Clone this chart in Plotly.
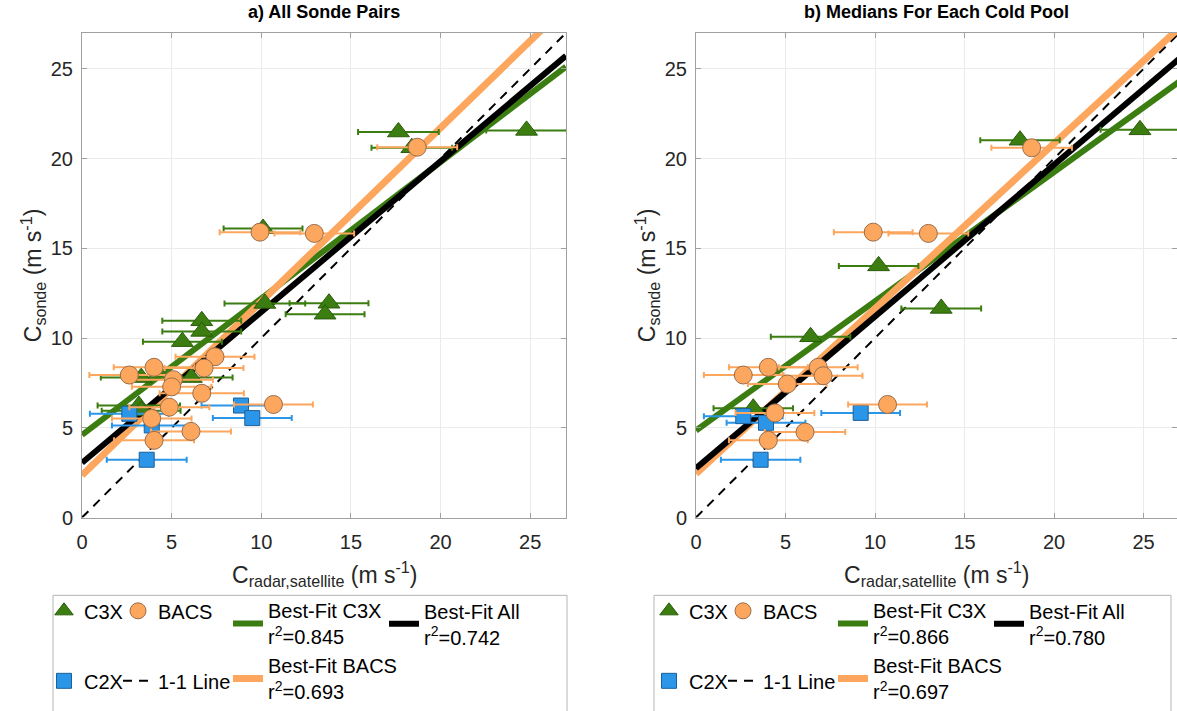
import plotly.graph_objects as go

W, H = 1177, 711
FONT = "Liberation Sans, Arial, Helvetica, sans-serif"

# ---- panel a) all sonde pairs ----
a_c3x_x = [24.8, 17.65, 18.4, 10.1, 10.2, 13.78, 13.56, 6.68, 6.68, 5.6, 6.1, 3.3, 3.17, 3.3]
a_c3x_y = [21.57, 21.48, 20.6, 16.1, 11.93, 11.94, 11.33, 10.96, 10.37, 9.8, 7.8, 7.8, 6.24, 5.95]
a_c3x_e = [2.25, 2.25, 2.25, 2.2, 2.25, 2.2, 2.2, 2.2, 2.2, 2.2, 2.3, 2.25, 2.3, 2.2]

a_bacs_x = [18.7, 9.93, 12.96, 7.42, 4.02, 6.81, 2.64, 5.1, 5.0, 6.68, 4.87, 10.68, 3.89, 6.08, 4.02]
a_bacs_y = [20.63, 15.9, 15.83, 8.96, 8.37, 8.33, 7.94, 7.68, 7.28, 6.92, 6.15, 6.3, 5.52, 4.8, 4.3]
a_bacs_e = [2.23, 2.25, 2.22, 2.2, 2.25, 2.2, 2.23, 2.2, 2.22, 2.35, 2.23, 2.2, 2.22, 2.23, 2.23]

a_c2x_x = [8.87, 9.5, 2.64, 3.89, 3.61]
a_c2x_y = [6.24, 5.54, 5.78, 5.13, 3.22]
a_c2x_e = [2.2, 2.2, 2.2, 2.22, 2.23]

# best-fit lines: (intercept, slope, r^2)
a_fit_c3x = (4.6, 0.76, 0.845)
a_fit_bacs = (2.35, 0.968, 0.693)
a_fit_all = (3.05, 0.84, 0.742)

# ---- panel b) medians for each cold pool ----
b_c3x_x = [24.8, 18.1, 10.2, 13.7, 6.4, 3.2]
b_c3x_y = [21.6, 21.02, 14.02, 11.65, 10.07, 6.09]
b_c3x_e = [2.2, 2.22, 2.22, 2.23, 2.22, 2.22]

b_bacs_x = [18.75, 9.9, 12.98, 4.04, 6.83, 2.64, 7.1, 5.1, 4.41, 10.7, 6.09, 4.04]
b_bacs_y = [20.6, 15.9, 15.83, 8.37, 8.37, 7.94, 7.9, 7.44, 5.83, 6.3, 4.76, 4.3]
b_bacs_e = [2.25, 2.2, 2.23, 2.2, 2.2, 2.2, 2.2, 2.2, 2.2, 2.2, 2.25, 2.2]

b_c2x_x = [9.2, 2.64, 3.91, 3.61]
b_c2x_y = [5.83, 5.65, 5.28, 3.22]
b_c2x_e = [2.2, 2.2, 2.2, 2.22]

b_fit_c3x = (4.85, 0.72, 0.866)
b_fit_bacs = (2.44, 0.92, 0.697)
b_fit_all = (2.75, 0.845, 0.780)

line_x = [0, 27]
tick_vals = [0, 5, 10, 15, 20, 25]

GREEN = "#3b7d11"
GREEN_EDGE = "#2a5c0a"
ORANGE = "#fca65e"
ORANGE_EDGE = "#9a6d4a"
BLUE = "#2b95e8"
BLUE_EDGE = "#1c5f99"


def px(x):
    return x / W


def py(y):
    return 1 - y / H


fig = go.Figure()


def add_panel(xa, ya, c3x, bacs, c2x, fits, legs):
    fc3x, fbacs, fall = fits
    xref = "x" if xa == "" else "x" + xa
    yref = "y" if ya == "" else "y" + ya
    # 1-1 line
    fig.add_trace(go.Scatter(
        x=line_x, y=line_x, mode="lines", name="1-1 Line",
        line=dict(color="black", width=2, dash="9px,7px"),
        xaxis=xref, yaxis=yref, legend=legs[1], legendgroup="one" + xa, legendrank=2,
        hoverinfo="skip"))
    for (b0, b1, r2), col, nm, lg, grp, rank, wd in [
        (fc3x, GREEN, "Best-Fit C3X", legs[2], "fc3x", 1, 6),
        (fbacs, ORANGE, "Best-Fit BACS", legs[2], "fbacs", 2, 7),
        (fall, "black", "Best-Fit All", legs[3], "fall", 1, 6),
    ]:
        fig.add_trace(go.Scatter(
            x=line_x, y=[b0 + b1 * v for v in line_x], mode="lines",
            name=f"{nm}<br>r<sup>2</sup>={r2:.3f}",
            line=dict(color=col, width=wd),
            xaxis=xref, yaxis=yref, legend=lg, legendgroup=grp + xa, legendrank=rank,
            hoverinfo="skip"))
    for (xs, ys, es), nm, sym, size, fill, edge, lg, grp, rank in [
        (c3x, "C3X", "triangle-up", 19, GREEN, GREEN_EDGE, legs[0], "c3x", 1),
        (c2x, "C2X", "square", 15, BLUE, BLUE_EDGE, legs[0], "c2x", 2),
        (bacs, "BACS", "circle", 18, ORANGE, ORANGE_EDGE, legs[1], "bacs", 1),
    ]:
        fig.add_trace(go.Scatter(
            x=xs, y=ys, mode="markers", name=nm,
            marker=dict(symbol=sym, size=size, color=fill, line=dict(color=edge, width=1)),
            error_x=dict(type="data", array=es, symmetric=True, color=fill, thickness=2, width=3),
            xaxis=xref, yaxis=yref, legend=lg, legendgroup=grp + xa, legendrank=rank))


add_panel("", "", (a_c3x_x, a_c3x_y, a_c3x_e), (a_bacs_x, a_bacs_y, a_bacs_e),
          (a_c2x_x, a_c2x_y, a_c2x_e), (a_fit_c3x, a_fit_bacs, a_fit_all),
          ["legend", "legend2", "legend3", "legend4"])
add_panel("2", "2", (b_c3x_x, b_c3x_y, b_c3x_e), (b_bacs_x, b_bacs_y, b_bacs_e),
          (b_c2x_x, b_c2x_y, b_c2x_e), (b_fit_c3x, b_fit_bacs, b_fit_all),
          ["legend5", "legend6", "legend7", "legend8"])

axis_style = dict(
    tickvals=tick_vals, ticks="inside", ticklen=5, tickcolor="#a0a0a0",
    showline=True, linecolor="#a0a0a0", linewidth=1, mirror="allticks",
    showgrid=True, gridcolor="#ebebeb", gridwidth=1, zeroline=False,
    tickfont=dict(family=FONT, size=20, color="#262626"), automargin=False,
)

y_dom = [py(519), py(33)]
layout = dict(
    width=W, height=H, margin=dict(l=0, r=0, t=0, b=0),
    paper_bgcolor="white", plot_bgcolor="white", showlegend=True,
    font=dict(family=FONT, color="#262626"),
    xaxis=dict(domain=[px(82), px(566)], range=[0, 27], anchor="y", ticklabelstandoff=6, **axis_style),
    yaxis=dict(domain=y_dom, range=[0, 27], anchor="x", ticklabelstandoff=4, **axis_style),
    xaxis2=dict(domain=[px(696), 1.0], range=[0, 26.87], anchor="y2", ticklabelstandoff=6, **axis_style),
    yaxis2=dict(domain=y_dom, range=[0, 27], anchor="x2", ticklabelstandoff=4, **axis_style),
)

# legend columns: left edge (px) and gap between entries
leg_cols = {
    "legend": (44, 41), "legend2": (118, 41), "legend3": (228, 0), "legend4": (384, 0),
    "legend5": (649, 41), "legend6": (723, 41), "legend7": (833, 0), "legend8": (989, 0),
}
for name, (left, gap) in leg_cols.items():
    layout[name] = dict(
        x=px(left), y=py(593), xanchor="left", yanchor="top", orientation="v",
        bgcolor="rgba(0,0,0,0)", borderwidth=0, tracegroupgap=gap, valign="middle",
        font=dict(family=FONT, size=20, color="black"), itemsizing="trace",
    )

fig.update_layout(**layout)

# legend frames
for x0, x1 in [(53, 567), (654, 1171)]:
    fig.add_shape(type="rect", xref="paper", yref="paper",
                  x0=px(x0), x1=px(x1), y0=-0.01, y1=py(597),
                  line=dict(color="#b5b5b5", width=1), fillcolor="rgba(0,0,0,0)")

# titles and axis labels
for cx, title in [((82 + 566) / 2, "a) All Sonde Pairs"), ((696 + 1177) / 2, "b) Medians For Each Cold Pool")]:
    fig.add_annotation(x=px(cx), y=py(12), xref="paper", yref="paper", showarrow=False,
                       text=f"<b>{title}</b>", font=dict(family=FONT, size=18, color="black"),
                       xanchor="center", yanchor="middle")
    fig.add_annotation(x=px(cx), y=py(576), xref="paper", yref="paper", showarrow=False,
                       text="C<sub>radar,satellite</sub> (m s<sup>-1</sup>)",
                       font=dict(family=FONT, size=23, color="#262626"),
                       xanchor="center", yanchor="middle")
for cx in [33, 647]:
    fig.add_annotation(x=px(cx), y=py(276), xref="paper", yref="paper", showarrow=False,
                       text="C<sub>sonde</sub> (m s<sup>-1</sup>)", textangle=-90,
                       font=dict(family=FONT, size=23, color="#262626"),
                       xanchor="center", yanchor="middle")

fig.write_html("out.html")
